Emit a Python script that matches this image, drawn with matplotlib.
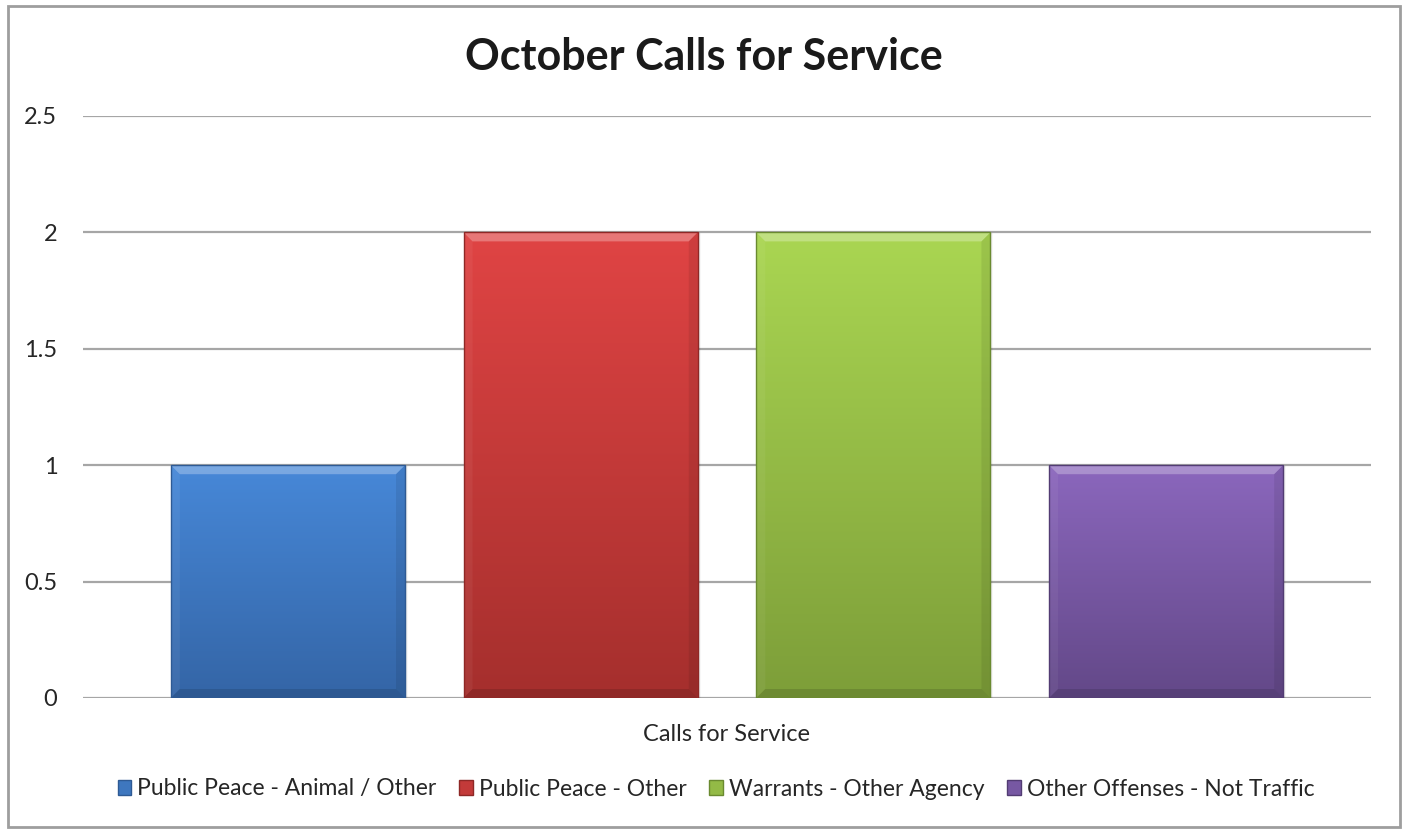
import numpy as np
import matplotlib
matplotlib.use("Agg")
import matplotlib.pyplot as plt
from matplotlib.patches import Rectangle, Polygon, Patch
from matplotlib.colors import LinearSegmentedColormap, to_rgb

plt.rcParams['font.family'] = ['Lato', 'DejaVu Sans']

# ---- data ----
title = "October Calls for Service"
category = "Calls for Service"
series = ["Public Peace - Animal / Other", "Public Peace - Other",
          "Warrants - Other Agency", "Other Offenses - Not Traffic"]
values = [1, 2, 2, 1]
top_colors = ["#4788D8", "#E04444", "#AAD652", "#8B67BD"]
bottom_colors = ["#3465A6", "#A52F2D", "#7D9E39", "#634888"]
edge_colors = ["#2E5A94", "#8E2826", "#6A8A30", "#523C73"]
yticks = [0, 0.5, 1, 1.5, 2, 2.5]
ytick_labels = ["0", "0.5", "1", "1.5", "2", "2.5"]

TEXT = "#262626"
W, H = 1408, 831
fig = plt.figure(figsize=(W / 100, H / 100), dpi=100)
fig.patch.set_facecolor("white")

# chart frame
fig.patches.append(Rectangle((8 / W, 1 - 827 / H), (1400 - 8) / W, (827 - 6) / H,
                             transform=fig.transFigure, fill=False,
                             edgecolor="#9E9E9E", linewidth=2.0, zorder=0))

ax = fig.add_axes([83 / W, 1 - 698 / H, (1371 - 83) / W, (698 - 116) / H])
ax.set_xlim(-0.7, 3.7)
ax.set_ylim(0, 2.5)
for s in ax.spines.values():
    s.set_visible(False)
ax.set_yticks(yticks)
ax.set_yticklabels(ytick_labels, fontsize=17, color=TEXT)
ax.tick_params(axis="y", length=0, pad=18.5)
ax.yaxis.grid(True, color="#A6A6A6", linewidth=1.6)
ax.set_axisbelow(True)

xs = np.arange(len(series))
ax.set_xticks([xs.mean()])
ax.set_xticklabels([category], fontsize=17, color=TEXT)
ax.tick_params(axis="x", length=0, pad=19)

bar_w = 0.8
bars = ax.bar(xs, values, width=bar_w, color="none", edgecolor="none", zorder=2)

# pixel -> data scale for bevel and shadow sizes
px_x = (3.7 + 0.7) / (1371 - 83)
px_y = 2.5 / (698 - 116)

for i, b in enumerate(bars):
    x0, y0 = b.get_x(), b.get_y()
    bw, bh = b.get_width(), b.get_height()
    # soft shadow
    for k, a in enumerate([0.10, 0.06, 0.03]):
        ax.add_patch(Rectangle((x0 + (k + 1) * px_x, y0 - (k + 1) * px_y * 0.3), bw, bh,
                               facecolor="black", alpha=a, edgecolor="none", zorder=2))
    cmap = LinearSegmentedColormap.from_list("g%d" % i, [bottom_colors[i], top_colors[i]])
    grad = np.linspace(0, 1, 256).reshape(-1, 1)
    im = ax.imshow(grad, extent=(x0, x0 + bw, y0, y0 + bh), origin="lower",
                   cmap=cmap, aspect="auto", zorder=3)
    im.set_clip_path(Rectangle((x0, y0), bw, bh, transform=ax.transData))
    # bevel
    bx, by = 9 * px_x, 9 * px_y
    x1, y1 = x0 + bw, y0 + bh
    ax.add_patch(Polygon([(x0, y1), (x1, y1), (x1 - bx, y1 - by), (x0 + bx, y1 - by)],
                         closed=True, facecolor="white", alpha=0.28, edgecolor="none", zorder=4))
    ax.add_patch(Polygon([(x0, y1), (x0 + bx, y1 - by), (x0 + bx, y0 + by), (x0, y0)],
                         closed=True, facecolor="white", alpha=0.05, edgecolor="none", zorder=4))
    ax.add_patch(Polygon([(x1, y1), (x1 - bx, y1 - by), (x1 - bx, y0 + by), (x1, y0)],
                         closed=True, facecolor="black", alpha=0.08, edgecolor="none", zorder=4))
    ax.add_patch(Polygon([(x0, y0), (x0 + bx, y0 + by), (x1 - bx, y0 + by), (x1, y0)],
                         closed=True, facecolor="black", alpha=0.12, edgecolor="none", zorder=4))
    ax.add_patch(Rectangle((x0, y0), bw, bh, fill=False, edgecolor=edge_colors[i],
                           linewidth=1.0, zorder=5))

fig.text(704 / W, 1 - 57 / H, title, ha="center", va="center",
         fontsize=31, fontweight="bold", color="#1A1A1A")

handles = [Patch(facecolor=np.array(to_rgb(top_colors[i])) * 0.5 +
                 np.array(to_rgb(bottom_colors[i])) * 0.5,
                 edgecolor=edge_colors[i], label=series[i]) for i in range(len(series))]
fig.legend(handles=handles, loc="center", bbox_to_anchor=(716 / W, 1 - 789 / H),
           ncol=4, frameon=False, fontsize=16.5, handlelength=0.6, handleheight=0.6,
           handletextpad=0.25, columnspacing=1.0, labelcolor=TEXT)

fig.savefig("out.png", dpi=100, facecolor="white")
